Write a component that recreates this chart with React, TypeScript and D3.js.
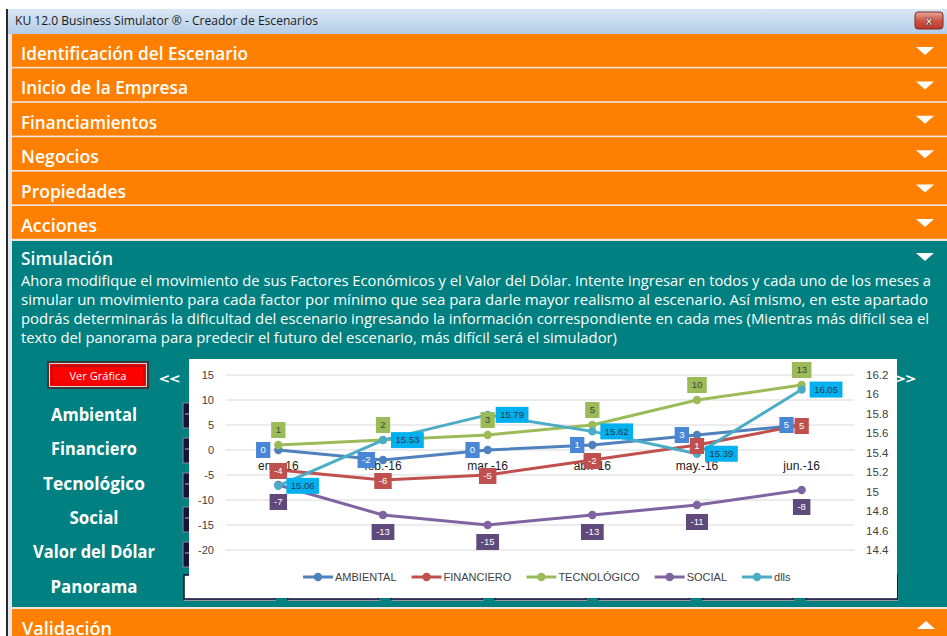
import React, { useEffect, useRef } from 'react';
import * as d3 from 'd3';

// ---- chart data ----
const months = ['ene.-16', 'feb.-16', 'mar.-16', 'abr.-16', 'may.-16', 'jun.-16'];
const ambiental = [0, -2, 0, 1, 3, 5];
const financiero = [-4, -6, -5, -2, 1, 5];
const tecnologico = [1, 2, 3, 5, 10, 13];
const social = [-7, -13, -15, -13, -11, -8];
const dlls = [15.06, 15.53, 15.79, 15.62, 15.39, 16.05];
const leftTicks = [-20, -15, -10, -5, 0, 5, 10, 15];
const rightTicks = [14.4, 14.6, 14.8, 15, 15.2, 15.4, 15.6, 15.8, 16, 16.2];

// ---- form texts ----
const titleText = 'KU 12.0 Business Simulator ® - Creador de Escenarios';
const sections = ['Identificación del Escenario', 'Inicio de la Empresa', 'Financiamientos', 'Negocios', 'Propiedades', 'Acciones'];
const sectionWidths = [227, 167, 136, 78, 105, 76];
const paragraph = [
  'Ahora modifique el movimiento de sus Factores Económicos y el Valor del Dólar. Intente ingresar en todos y cada uno de los meses a',
  'simular un movimiento para cada factor por mínimo que sea para darle mayor realismo al escenario. Así mismo, en este apartado',
  'podrás determinarás la dificultad del escenario ingresando la información correspondiente en cada mes (Mientras más difícil sea el',
  'texto del panorama para predecir el futuro del escenario, más difícil será el simulador)',
];
const paragraphWidths = [910, 907, 908, 596];
const factorLabels = ['Ambiental', 'Financiero', 'Tecnológico', 'Social', 'Valor del Dólar', 'Panorama'];
const factorWidths = [86, 86, 102, 49, 122, 87];

const series = [
  { name: 'AMBIENTAL', values: ambiental, color: '#4f81bd', box: '#4a86d6', text: '#ffffff', pos: 'left', axis: 'left' },
  { name: 'FINANCIERO', values: financiero, color: '#c0504d', box: '#c0504d', text: '#ffffff', pos: 'center', axis: 'left' },
  { name: 'TECNOLÓGICO', values: tecnologico, color: '#9bbb59', box: '#9bbb59', text: '#3f3f3f', pos: 'above', axis: 'left' },
  { name: 'SOCIAL', values: social, color: '#8064a2', box: '#604a7b', text: '#ffffff', pos: 'below', axis: 'left' },
  { name: 'dlls', values: dlls, color: '#4bacc6', box: '#00b0f0', text: '#2b3a4a', pos: 'right', axis: 'right' },
];

const ORANGE = '#ff8000';
const TEAL = '#008080';
const UI_FONT = "'Open Sans', 'DejaVu Sans', sans-serif";
const CHART_FONT = "'Liberation Sans', Arial, sans-serif";

function Chart() {
  const ref = useRef<SVGGElement>(null);

  useEffect(() => {
    const g = d3.select(ref.current);
    g.selectAll('*').remove();

    const x = d3.scaleBand().domain(months).range([226, 854]);
    const cx = (i: number) => (x(months[i]) as number) + x.bandwidth() / 2;
    const yL = d3.scaleLinear().domain([-20, 15]).range([550, 375]);
    const yR = d3.scaleLinear().domain([14.4, 16.2]).range([550, 375]);

    g.append('rect').attr('x', 189).attr('y', 359).attr('width', 708).attr('height', 239).attr('fill', '#fff');

    // gridlines
    g.append('g')
      .selectAll('line')
      .data(leftTicks)
      .join('line')
      .attr('x1', 226)
      .attr('x2', 854)
      .attr('y1', d => yL(d))
      .attr('y2', d => yL(d))
      .attr('stroke', '#d9d9d9')
      .attr('stroke-width', 1);

    g.append('g')
      .attr('font-family', CHART_FONT)
      .attr('font-size', 11)
      .attr('fill', '#404040')
      .attr('text-anchor', 'end')
      .selectAll('text')
      .data(leftTicks)
      .join('text')
      .attr('x', 214)
      .attr('y', d => yL(d))
      .attr('dy', '0.35em')
      .text(d => d);

    g.append('g')
      .attr('font-family', CHART_FONT)
      .attr('font-size', 11.5)
      .attr('fill', '#404040')
      .attr('text-anchor', 'start')
      .selectAll('text')
      .data(rightTicks)
      .join('text')
      .attr('x', 866)
      .attr('y', d => yR(d))
      .attr('dy', '0.35em')
      .text(d => d);

    // category labels next to the zero line
    g.append('g')
      .attr('font-family', CHART_FONT)
      .attr('font-size', 12)
      .attr('fill', '#1a1a1a')
      .attr('text-anchor', 'middle')
      .selectAll('text')
      .data(months)
      .join('text')
      .attr('x', (d, i) => cx(i))
      .attr('y', yL(0) + 20)
      .text(d => d);

    // lines + markers
    series.forEach(s => {
      const y = s.axis === 'right' ? yR : yL;
      const line = d3.line<number>().x((d, i) => cx(i)).y(d => y(d));
      g.append('path')
        .datum(s.values)
        .attr('d', line)
        .attr('fill', 'none')
        .attr('stroke', s.color)
        .attr('stroke-width', 3)
        .attr('stroke-linejoin', 'round')
        .attr('stroke-linecap', 'round');
      g.append('g')
        .selectAll('circle')
        .data(s.values)
        .join('circle')
        .attr('cx', (d, i) => cx(i))
        .attr('cy', d => y(d))
        .attr('r', 4.2)
        .attr('fill', s.color);
    });

    // data labels
    series.forEach(s => {
      const y = s.axis === 'right' ? yR : yL;
      s.values.forEach((v, i) => {
        const px = cx(i);
        const py = y(v);
        const lg = g.append('g');
        const t = lg
          .append('text')
          .attr('font-family', CHART_FONT)
          .attr('font-size', 9.5)
          .attr('fill', s.text)
          .attr('text-anchor', 'middle')
          .attr('dy', '0.35em')
          .text(String(v));
        const w = (t.node() as SVGTextElement).getComputedTextLength() + 9;
        const h = 16;
        let bx = px;
        let by = py;
        if (s.pos === 'left') bx = px - 8 - w / 2;
        if (s.pos === 'right') bx = px + 8 + w / 2;
        if (s.pos === 'above') by = py - 15;
        if (s.pos === 'below') by = py + 17;
        if (s.pos === 'center') by = py + 1;
        t.attr('x', bx).attr('y', by);
        lg.insert('rect', 'text')
          .attr('x', bx - w / 2)
          .attr('y', by - h / 2)
          .attr('width', w)
          .attr('height', h)
          .attr('fill', s.box);
      });
    });

    // legend
    let lx = 303;
    const ly = 577;
    series.forEach(s => {
      const item = g.append('g');
      item.append('line').attr('x1', lx).attr('x2', lx + 30).attr('y1', ly).attr('y2', ly)
        .attr('stroke', s.color).attr('stroke-width', 3);
      item.append('circle').attr('cx', lx + 15).attr('cy', ly).attr('r', 4.2).attr('fill', s.color);
      const t = item.append('text')
        .attr('x', lx + 32)
        .attr('y', ly)
        .attr('dy', '0.35em')
        .attr('font-family', CHART_FONT)
        .attr('font-size', 11)
        .attr('fill', '#404040')
        .text(s.name);
      lx = lx + 32 + (t.node() as SVGTextElement).getComputedTextLength() + 15;
    });
  }, []);

  return <g ref={ref} />;
}

function Tri({ cx, cy, up }: { cx: number; cy: number; up?: boolean }) {
  const pts = up
    ? `${cx - 9},${cy + 4} ${cx + 9},${cy + 4} ${cx},${cy - 4}`
    : `${cx - 9},${cy - 4} ${cx + 9},${cy - 4} ${cx},${cy + 4}`;
  return <polygon points={pts} fill="#fff" />;
}

export default function App() {
  const barTop = (i: number) => 34 + i * 34.4;
  const rowTops = [403, 438, 473, 507, 542];
  const panoramaBoxes = d3.range(7);

  return (
    <svg width={947} height={636} style={{ position: 'absolute', left: 0, top: 0, display: 'block' }}>
      <defs>
        <linearGradient id="titleGrad" x1="0" y1="0" x2="0" y2="1">
          <stop offset="0" stopColor="#dbe7f4" />
          <stop offset="1" stopColor="#b3cce8" />
        </linearGradient>
        <linearGradient id="closeGrad" x1="0" y1="0" x2="0" y2="1">
          <stop offset="0" stopColor="#e6a89c" />
          <stop offset="0.5" stopColor="#cf5546" />
          <stop offset="1" stopColor="#b9392a" />
        </linearGradient>
      </defs>
      <rect width={947} height={636} fill="#fff" />

      {/* window frame */}
      <rect x={6} y={9} width={941} height={627} fill="#c9d8ea" />
      <rect x={6} y={9} width={941} height={25} fill="url(#titleGrad)" />
      <rect x={6} y={9} width={2} height={627} fill="#2a2a2a" />
      <rect x={8} y={34} width={4} height={602} fill="#e4e8ee" />
      <text x={15} y={25} fontFamily={UI_FONT} fontSize={12} fill="#1a1a1a" textLength={303} lengthAdjust="spacingAndGlyphs">
        {titleText}
      </text>
      <rect x={915} y={12} width={28} height={17} rx={3} fill="url(#closeGrad)" stroke="#7a2b22" />
      <text x={929} y={25} textAnchor="middle" fontFamily={UI_FONT} fontWeight={700} fontSize={13} fill="#fff" stroke="#6a2a22" strokeWidth={0.6}>
        x
      </text>

      {/* content background / separators */}
      <rect x={12} y={34} width={935} height={602} fill="#efe6dc" />

      {sections.map((s, i) => (
        <g key={s}>
          <rect x={12} y={barTop(i)} width={935} height={32.8} fill={ORANGE} />
          <text x={21} y={barTop(i) + 26} fontFamily={UI_FONT} fontWeight={600} fontSize={18} fill="#fff"
            textLength={sectionWidths[i]} lengthAdjust="spacingAndGlyphs">
            {s}
          </text>
          <Tri cx={925} cy={barTop(i) + 17} />
        </g>
      ))}

      {/* Simulación section */}
      <rect x={12} y={241} width={935} height={366} fill={TEAL} />
      <text x={21} y={265} fontFamily={UI_FONT} fontWeight={600} fontSize={18} fill="#fff" textLength={92} lengthAdjust="spacingAndGlyphs">
        Simulación
      </text>
      <Tri cx={925} cy={257} />
      {paragraph.map((l, i) => (
        <text key={i} x={21} y={286 + i * 19} fontFamily={UI_FONT} fontSize={14} fill="#fff"
          textLength={paragraphWidths[i]} lengthAdjust="spacingAndGlyphs">
          {l}
        </text>
      ))}

      {/* Ver Gráfica button */}
      <rect x={47} y={361} width={102} height={28} fill="#3a3a3a" />
      <rect x={49} y={363} width={98} height={24} fill="#d8d8d8" />
      <rect x={50} y={364} width={96} height={22} fill="#ff0000" />
      <rect x={52} y={366} width={92} height={18} fill="none" stroke="#5a1010" strokeDasharray="1 1" strokeWidth={1} />
      <text x={98} y={380} textAnchor="middle" fontFamily={UI_FONT} fontSize={11} fill="#fff" textLength={57} lengthAdjust="spacingAndGlyphs">
        Ver Gráfica
      </text>
      <text x={159} y={384} fontFamily={UI_FONT} fontWeight={700} fontSize={15} fill="#fff" textLength={21} lengthAdjust="spacingAndGlyphs">
        {'<<'}
      </text>
      <text x={895} y={384} fontFamily={UI_FONT} fontWeight={700} fontSize={15} fill="#fff" textLength={21} lengthAdjust="spacingAndGlyphs">
        {'>>'}
      </text>

      {/* factor labels */}
      {factorLabels.map((l, i) => (
        <text key={l} x={94} y={421 + i * 34.3} textAnchor="middle" fontFamily={UI_FONT} fontWeight={700} fontSize={18.5} fill="#fff"
          textLength={factorWidths[i]} lengthAdjust="spacingAndGlyphs">
          {l}
        </text>
      ))}

      {/* input boxes partially hidden behind the chart */}
      {rowTops.map(t => (
        <g key={t}>
          <rect x={183} y={t} width={90} height={25} fill="#14143c" stroke="#8a8a9a" strokeWidth={1} />
          <line x1={185} x2={273} y1={t + 11} y2={t + 11} stroke="#b8b8c8" />
        </g>
      ))}
      {panoramaBoxes.map(i => (
        <g key={i}>
          <rect x={184 + i * 103.7} y={576} width={92} height={25} fill="#9a9a9a" />
          <rect x={184 + i * 103.7} y={575} width={91} height={24} fill="#fff" stroke="#0c0c3c" strokeWidth={1.5} />
        </g>
      ))}

      <Chart />

      {/* Validación */}
      <rect x={12} y={609} width={935} height={27} fill={ORANGE} />
      <text x={22} y={635} fontFamily={UI_FONT} fontWeight={600} fontSize={18} fill="#fff" textLength={90} lengthAdjust="spacingAndGlyphs">
        Validación
      </text>
      <Tri cx={926} cy={625} up />
    </svg>
  );
}
